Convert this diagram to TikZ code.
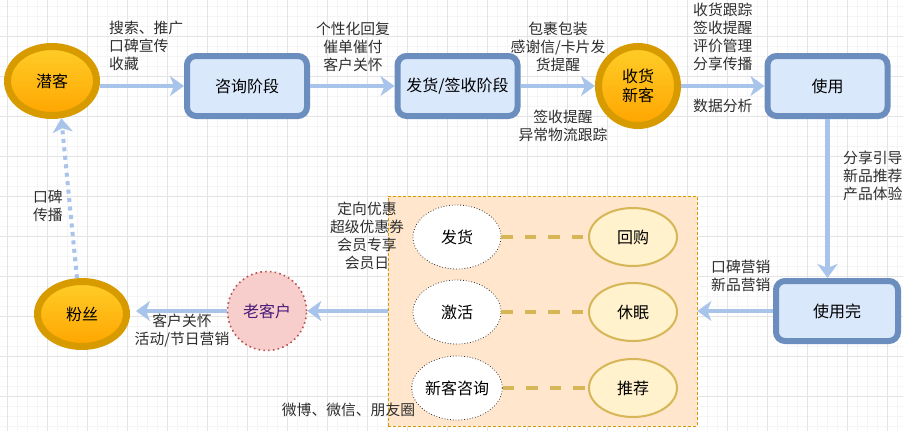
\documentclass[tikz,border=0pt]{standalone}
\usepackage{fontspec}
\setmainfont{Noto Sans CJK SC}
\usetikzlibrary{shapes.geometric,arrows.meta}
\definecolor{gridmin}{HTML}{F5F5F5}
\definecolor{gridmaj}{HTML}{E4E4E4}
\definecolor{goldline}{HTML}{D79B00}
\definecolor{goldtop}{HTML}{FFCD28}
\definecolor{goldbot}{HTML}{FFA500}
\definecolor{stageline}{HTML}{6C8EBF}
\definecolor{stagefill}{HTML}{DAE8FC}
\definecolor{flowc}{HTML}{A9C4EB}
\definecolor{boxfill}{HTML}{FFE6CC}
\definecolor{ylwfill}{HTML}{FFF2CC}
\definecolor{ylwline}{HTML}{D6B656}
\definecolor{redfill}{HTML}{F8CECC}
\definecolor{redline}{HTML}{B85450}
\definecolor{purpletext}{HTML}{4A1A7A}
\definecolor{labelc}{HTML}{2E2E2E}
\newcommand\mynodefont{\fontsize{16}{19}\selectfont}
\newcommand\mylabelfont{\fontsize{14.8}{18}\selectfont}
\begin{document}
\begin{tikzpicture}[x=1pt,y=-1pt,
  gold/.style={ellipse, draw=goldline, line width=7pt, top color=goldtop, bottom color=goldbot, inner sep=0pt, font=\mynodefont, text=black, align=center},
  stagebox/.style={rectangle, rounded corners=9pt, draw=stageline, fill=stagefill, line width=6pt, minimum width=120pt, minimum height=60pt, inner sep=0pt, font=\mynodefont, text=black},
  flow/.style={draw=flowc, line width=4.5pt, -{Stealth[length=14pt,width=20pt,inset=4pt]}},
  dotflow/.style={draw=flowc, line width=4pt, dash pattern=on 4pt off 4.5pt, -{Stealth[length=14pt,width=20pt,inset=4pt]}},
  lbl/.style={font=\mylabelfont, text=labelc, inner sep=0pt},
  whiteell/.style={ellipse, draw=black!80, dotted, line width=0.8pt, fill=white, minimum width=88pt, minimum height=64pt, inner sep=0pt, font=\mynodefont},
  ylwell/.style={ellipse, draw=ylwline, line width=2pt, fill=ylwfill, minimum width=88pt, minimum height=58pt, inner sep=0pt, font=\mynodefont},
  ydash/.style={draw=ylwline, line width=4pt, dash pattern=on 11.5pt off 12pt},
  container/.style={rectangle, draw=goldline, dashed, dash pattern=on 3pt off 2pt, line width=0.7pt, fill=boxfill, minimum width=309pt, minimum height=230pt, inner sep=0pt}
]
\useasboundingbox (0,0) rectangle (903,431);
\fill[white] (0,0) rectangle (903,431);
% grid
\foreach \x in {7,17,...,903} \draw[gridmin, line width=0.8pt] (\x,0) -- (\x,431);
\foreach \y in {6,16,...,431} \draw[gridmin, line width=0.8pt] (0,\y) -- (903,\y);
\foreach \x in {7,47,...,903} \draw[gridmaj, line width=1pt] (\x,0) -- (\x,431);
\foreach \y in {36,76,...,431} \draw[gridmaj, line width=1pt] (0,\y) -- (903,\y);

% container
\node[container] (box) at (542.5,311) {};

% nodes
\node[gold, minimum width=89pt, minimum height=69pt] (qk) at (52,81) {潜客};
\node[stagebox] (zx) at (247,86) {咨询阶段};
\node[stagebox] (fh) at (457.5,86) {发货/签收阶段};
\node[gold, circle, minimum size=79pt, font={\fontsize{16}{19}\selectfont}] (xk) at (638,86) {收货\\新客};
\node[stagebox] (sy) at (827.5,86) {使用};
\node[stagebox, minimum width=122pt] (syw) at (837,311) {使用完};
\node[circle, draw=redline, fill=redfill, line width=1.6pt, dash pattern=on 1.6pt off 3.2pt, minimum size=79pt, inner sep=0pt, font=\mynodefont, text=purpletext] (lk) at (267,311) {老客户};
\node[gold, minimum width=89pt, minimum height=65pt] (fs) at (82,314) {粉丝};

\node[whiteell] (w1) at (457,237) {发货};
\node[whiteell] (w2) at (457,312) {激活};
\node[whiteell] (w3) at (457,388) {新客咨询};
\node[ylwell] (y1) at (633,237) {回购};
\node[ylwell] (y2) at (633,312) {休眠};
\node[ylwell] (y3) at (633,388) {推荐};

% connectors
\draw[flow] (qk.east |- zx.west) -- (zx.west);
\draw[flow] (zx) -- (fh);
\draw[flow] (fh) -- (xk);
\draw[flow] (xk) -- (sy);
\draw[flow] (sy.south) -- (sy.south |- syw.north);
\draw[flow] (syw.west) -- (box.east);
\draw[flow] (box.west) -- (lk.east);
\draw[flow, shorten >=6pt] (lk.west) -- (lk.west -| fs.east);
\draw[dotflow] (fs.98) -- (qk.284);
\draw[ydash] (w1.east) -- (y1.west);
\draw[ydash] (w2.east) -- (y2.west);
\draw[ydash] (w3.east) -- (y3.west);

% labels
\node[lbl, anchor=west, align=left] (l1) at (109,46) {搜索、推广\\口碑宣传\\收藏};
\node[lbl, align=center] (l2) at (353,47) {个性化回复\\催单催付\\客户关怀};
\node[lbl, align=center] (l3) at (558,47) {包裹包装\\感谢信/卡片发\\货提醒};
\node[lbl, align=center] (l4) at (563,126) {签收提醒\\异常物流跟踪};
\node[lbl, anchor=west, align=left] (l5) at (693,37) {收货跟踪\\签收提醒\\评价管理\\分享传播};
\node[lbl, anchor=west, align=left] (l6) at (693,106) {数据分析};
\node[lbl, anchor=west, align=left] (l7) at (843,176) {分享引导\\新品推荐\\产品体验};
\node[lbl, anchor=west, align=left] (l8) at (711,276) {口碑营销\\新品营销};
\node[lbl, align=center] (l9) at (367,236) {定向优惠\\超级优惠券\\会员专享\\会员日};
\node[lbl] (l10) at (348.5,410) {微博、微信、朋友圈};
\node[lbl, align=center] (l11) at (182,331) {客户关怀\\活动/节日营销};
\node[lbl, anchor=west, align=left] (l12) at (33,206) {口碑\\传播};
\end{tikzpicture}
\end{document}
